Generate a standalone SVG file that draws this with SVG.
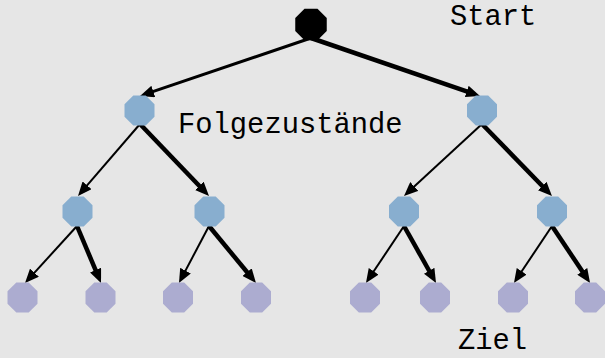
<svg xmlns="http://www.w3.org/2000/svg" xmlns:xlink="http://www.w3.org/1999/xlink" width="605" height="358" viewBox="0 0 605 358">
<style>
.bg{fill:#e6e6e6}
.lbl{font-family:"Liberation Mono","Courier New",monospace;font-size:28.8px;fill:#000}
.e{stroke:#000;fill:none;stroke-linecap:butt}
.thin{stroke-width:2}
.mid{stroke-width:3}
.thick{stroke-width:4.5}
.root{fill:#000}
.inner{fill:#88aecf}
.leaf{fill:#acacd0}
</style>
<defs>
<polygon id="oct" points="-6.2,-15 6.2,-15 15,-6.2 15,6.2 6.2,15 -6.2,15 -15,6.2 -15,-6.2"/>
<marker id="ah" markerUnits="userSpaceOnUse" markerWidth="14" markerHeight="12" refX="6" refY="6" orient="auto" viewBox="0 0 14 12">
<path d="M0,0 L14,6 L0,12 z" fill="#000"/>
</marker>
</defs>
<rect class="bg" x="0" y="0" width="605" height="358"/>
<g id="connectors" marker-end="url(#ah)">
<line class="e mid" x1="311" y1="38" x2="147.6" y2="93.4"/>
<line class="e thick" x1="311" y1="38" x2="472.4" y2="93.4"/>
<line class="e thin" x1="140" y1="124" x2="83.2" y2="189.9"/>
<line class="e thick" x1="140" y1="124" x2="203.5" y2="190.2"/>
<line class="e thin" x1="482" y1="124" x2="409.9" y2="190.6"/>
<line class="e thick" x1="482" y1="124" x2="546.4" y2="190.3"/>
<line class="e thin" x1="77" y1="226" x2="30.4" y2="277.1"/>
<line class="e thick" x1="77" y1="226" x2="97.9" y2="275.6"/>
<line class="e thin" x1="209" y1="226" x2="182.7" y2="275.9"/>
<line class="e thick" x1="209" y1="226" x2="250.9" y2="276.8"/>
<line class="e thin" x1="404" y1="226" x2="370.4" y2="276.3"/>
<line class="e thick" x1="404" y1="226" x2="432.1" y2="276"/>
<line class="e thin" x1="552" y1="226" x2="518.4" y2="276.3"/>
<line class="e thick" x1="552" y1="226" x2="585.6" y2="276.3"/>
</g>
<g id="n-root"><use xlink:href="#oct" href="#oct" class="root" transform="translate(311,24.5) scale(1.05)"/></g>
<g id="n-1"><use xlink:href="#oct" href="#oct" class="inner" x="139.5" y="110.5"/></g>
<g id="n-2"><use xlink:href="#oct" href="#oct" class="inner" x="482" y="110.5"/></g>
<g id="n-11"><use xlink:href="#oct" href="#oct" class="inner" x="77.5" y="211.5"/></g>
<g id="n-12"><use xlink:href="#oct" href="#oct" class="inner" x="209.5" y="211.5"/></g>
<g id="n-21"><use xlink:href="#oct" href="#oct" class="inner" x="404" y="211.5"/></g>
<g id="n-22"><use xlink:href="#oct" href="#oct" class="inner" x="552" y="211.5"/></g>
<g id="n-111"><use xlink:href="#oct" href="#oct" class="leaf" x="22.5" y="297.5"/></g>
<g id="n-112"><use xlink:href="#oct" href="#oct" class="leaf" x="100.5" y="297.5"/></g>
<g id="n-121"><use xlink:href="#oct" href="#oct" class="leaf" x="178" y="297.5"/></g>
<g id="n-122"><use xlink:href="#oct" href="#oct" class="leaf" x="256" y="297.5"/></g>
<g id="n-211"><use xlink:href="#oct" href="#oct" class="leaf" x="365" y="297.5"/></g>
<g id="n-212"><use xlink:href="#oct" href="#oct" class="leaf" x="435" y="297.5"/></g>
<g id="n-221"><use xlink:href="#oct" href="#oct" class="leaf" x="513" y="297.5"/></g>
<g id="n-222"><use xlink:href="#oct" href="#oct" class="leaf" x="590" y="297.5"/></g>
<g id="labels">
<text class="lbl" x="450" y="25">Start</text>
<text class="lbl" x="178" y="133">Folgezustände</text>
<text class="lbl" x="458" y="349">Ziel</text>
</g>
</svg>
